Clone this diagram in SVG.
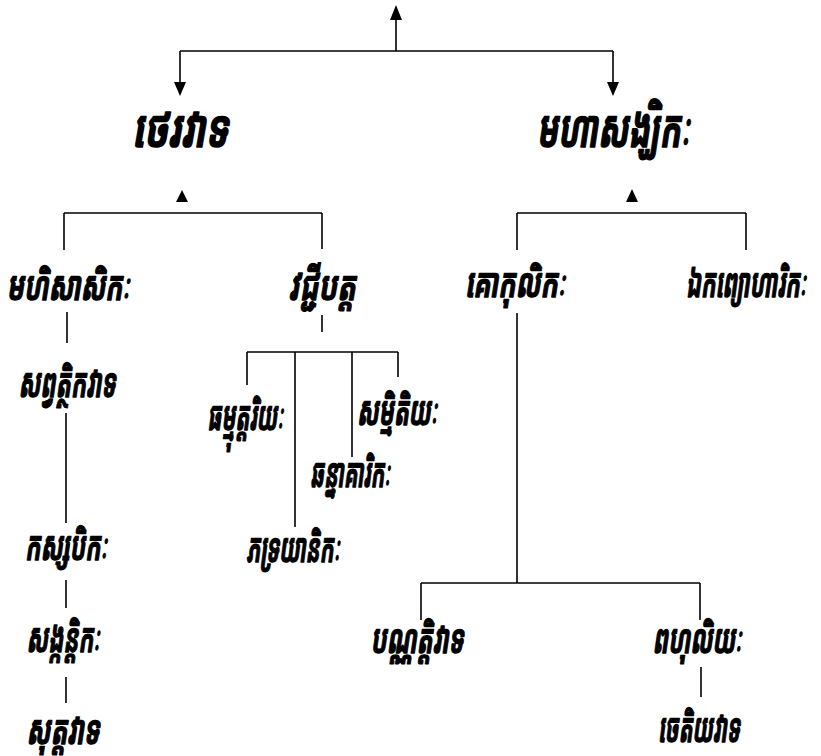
<svg xmlns="http://www.w3.org/2000/svg" width="821" height="756" viewBox="0 0 821 756">
<style>
.t{font-family:"Noto Sans Khmer","Noto Serif Khmer","Khmer OS","Khmer OS System","DejaVu Sans",sans-serif;font-weight:bold;font-style:italic;fill:#000;stroke:#000;stroke-linejoin:round;text-anchor:middle}
.l1{font-size:52px;stroke-width:1.6}
.l2{font-size:40px;stroke-width:1.4}
.c line{stroke:#000;stroke-width:1.6;fill:none}
.c polygon{fill:#000}
</style>
<rect width="821" height="756" fill="#fff"/>
<g id="connectors" class="c">
<line x1="396" y1="20" x2="396" y2="51"/>
<polygon points="396,5 390,20 402,20"/>
<line x1="180" y1="51" x2="613" y2="51"/>
<line x1="180" y1="51" x2="180" y2="83"/>
<polygon points="174,82 186,82 180,96"/>
<line x1="613" y1="51" x2="613" y2="83"/>
<polygon points="607,82 619,82 613,96"/>
<polygon points="182,190 176,202 188,202"/>
<polygon points="632,189 626,202 638,202"/>
<line x1="64" y1="213" x2="322" y2="213"/>
<line x1="64" y1="213" x2="64" y2="250"/>
<line x1="322" y1="213" x2="322" y2="249"/>
<line x1="67" y1="312" x2="67" y2="343"/>
<line x1="322" y1="315" x2="322" y2="332"/>
<line x1="247" y1="352" x2="398" y2="352"/>
<line x1="247" y1="352" x2="247" y2="385"/>
<line x1="295" y1="352" x2="295" y2="527"/>
<line x1="352" y1="352" x2="352" y2="457"/>
<line x1="398" y1="352" x2="398" y2="377"/>
<line x1="66" y1="413" x2="66" y2="523"/>
<line x1="66" y1="580" x2="66" y2="608"/>
<line x1="66" y1="677" x2="66" y2="703"/>
<line x1="517" y1="213" x2="746" y2="213"/>
<line x1="517" y1="213" x2="517" y2="250"/>
<line x1="746" y1="213" x2="746" y2="250"/>
<line x1="517" y1="313" x2="517" y2="583"/>
<line x1="421" y1="583" x2="700" y2="583"/>
<line x1="421" y1="583" x2="421" y2="620"/>
<line x1="700" y1="583" x2="700" y2="620"/>
<line x1="701" y1="667" x2="701" y2="697"/>
</g>
<g id="n-theravada"><text class="t l1" x="180" y="147" textLength="96" lengthAdjust="spacingAndGlyphs">ថេរវាទ</text></g>
<g id="n-mahasanghika"><text class="t l1" x="613" y="147" textLength="153" lengthAdjust="spacingAndGlyphs">មហាសង្ឃិកៈ</text></g>
<g id="n-mahisasaka"><text class="t l2" x="68" y="300" textLength="123" lengthAdjust="spacingAndGlyphs">មហិសាសិកៈ</text></g>
<g id="n-vajjiputtaka"><text class="t l2" x="322" y="300" textLength="67" lengthAdjust="spacingAndGlyphs">វជ្ជីបត្ត</text></g>
<g id="n-gokulika"><text class="t l2" x="515" y="297" textLength="100" lengthAdjust="spacingAndGlyphs">គោកុលិកៈ</text></g>
<g id="n-ekavyavaharika"><text class="t l2" x="806" y="297" textLength="120" lengthAdjust="spacingAndGlyphs" style="text-anchor:end">ឯកព្យោហារិកៈ</text></g>
<g id="n-sarvastivada"><text class="t l2" x="67" y="397" textLength="97" lengthAdjust="spacingAndGlyphs">សព្វត្ថិកវាទ</text></g>
<g id="n-dharmottariya"><text class="t l2" x="245" y="430" textLength="76" lengthAdjust="spacingAndGlyphs">ធម្មុត្តរិយៈ</text></g>
<g id="n-sammitiya"><text class="t l2" x="397" y="425" textLength="80" lengthAdjust="spacingAndGlyphs">សម្មិតិយៈ</text></g>
<g id="n-channagarika"><text class="t l2" x="350" y="487" textLength="80" lengthAdjust="spacingAndGlyphs">ឆន្នាគារិកៈ</text></g>
<g id="n-bhadrayaniya"><text class="t l2" x="293" y="562" textLength="93" lengthAdjust="spacingAndGlyphs">ភទ្រយានិកៈ</text></g>
<g id="n-kasyapiya"><text class="t l2" x="66" y="560" textLength="82" lengthAdjust="spacingAndGlyphs">កស្សបិកៈ</text></g>
<g id="n-sankrantika"><text class="t l2" x="63" y="652" textLength="73" lengthAdjust="spacingAndGlyphs">សង្កន្តិកៈ</text></g>
<g id="n-sutravada"><text class="t l2" x="63" y="744" textLength="73" lengthAdjust="spacingAndGlyphs">សុត្តវាទ</text></g>
<g id="n-prajnaptivada"><text class="t l2" x="417" y="653" textLength="93" lengthAdjust="spacingAndGlyphs">បណ្ណត្តិវាទ</text></g>
<g id="n-bahusrutiya"><text class="t l2" x="697" y="653" textLength="89" lengthAdjust="spacingAndGlyphs">ពហុលិយៈ</text></g>
<g id="n-caitika"><text class="t l2" x="699" y="742" textLength="82" lengthAdjust="spacingAndGlyphs">ចេតិយវាទ</text></g>
</svg>
